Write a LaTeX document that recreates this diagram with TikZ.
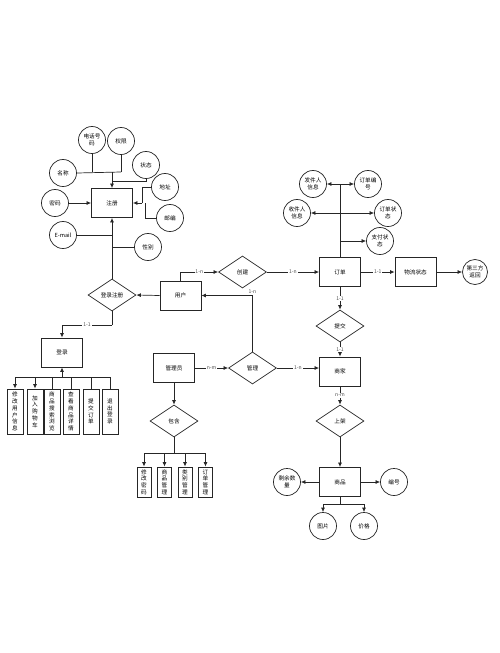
\documentclass[tikz,border=0pt]{standalone}
\usepackage{fontspec}
\usepackage{tikz}
\usetikzlibrary{shapes.geometric,arrows.meta}
\newfontfamily\cjk{Noto Sans CJK SC}

\begin{document}
\begin{tikzpicture}[x=0.025cm, y=-0.025cm,
		every node/.style={font=\cjk\fontsize{4}{4.8}\selectfont, align=center, inner sep=0pt},
		ent/.style={draw, line width=0.6pt, minimum width=1.025cm, minimum height=0.725cm},
		rel/.style={draw, diamond, line width=0.5pt, minimum width=1.2cm, minimum height=0.8cm},
		attr/.style={draw, circle, line width=0.5pt, minimum size=0.675cm},
		vbox/.style={draw, line width=0.6pt, minimum width=0.4cm, minimum height=1.125cm},
		sbox/.style={draw, line width=0.6pt, minimum width=0.35cm, minimum height=0.75cm},
		lbl/.style={fill=white, inner sep=0.6pt, text=black!70, font=\cjk\fontsize{3.6}{4}\selectfont},
		arr/.style={-{Latex[length=3.2pt,width=2.8pt]}},
		line width=0.5pt, draw=black!85]
		\fill[white] (0,0) rectangle (500,653);
		\useasboundingbox (0,0) rectangle (500,653);

		% 注册
		\node[ent] (reg) at (112,203) {注册};
		\node[attr] (phone) at (92,140) {电话号\\码};
		\node[attr] (perm) at (121,141) {权限};
		\node[attr] (state) at (146,165) {状态};
		\node[attr] (name) at (63,173) {名称};
		\node[attr] (addr) at (165,187) {地址};
		\node[attr] (pwd) at (55,203) {密码};
		\node[attr] (zip) at (170,218) {邮编};
		\node[attr] (mail) at (63,235) {E-mail};
		\node[attr] (sex) at (148,247) {性别};

		\coordinate (rt) at (112,172);
		\coordinate (ra) at (142,203);
		\coordinate (rb) at (145,203);
		\draw (name.east) -- (perm.south |- rt);
		\draw (phone.south) -- (phone.south |- rt);
		\draw (perm.south) -- (perm.south |- rt);
		\draw (state.south) |- (112,181);
		\draw[arr] (rt) -- (reg.north);
		\draw (addr.west) -| (ra);
		\draw (zip.west) -| (rb);
		\draw[arr] (ra) -- (reg.east);
		\draw[arr] (pwd.east) -- (reg.west);
		\draw (mail.east) -- (reg.south |- mail.east);
		\draw (sex.west) -- (reg.south |- sex.west);

		% 用户
		\node[rel] (lr) at (112,295) {登录注册};
		\node[ent] (user) at (180.5,295.5) {用户};
		\node[rel] (cre) at (242.5,272) {创建};
		\node[ent] (login) at (62,352.5) {登录};
		\draw[arr] (lr.north) -- (reg.south);
		\draw[arr] (user.west) -- (lr.east);
		\draw[arr] (user.north) |- node[lbl, pos=0.75] {1-n} (cre.west);
		\coordinate (lj) at (112,325);
		\draw (lr.south) -- (lj);
		\draw[arr] (lj) -| node[lbl, pos=0.25] {1-1} (login.north);

		% 用户操作
		\node[vbox] (u1) at (15,411.5) {修\\改\\用\\户\\信\\息};
		\node[vbox] (u2) at (35,411.5) {加\\入\\购\\物\\车};
		\node[vbox] (u3) at (52,411.5) {商\\品\\搜\\索\\浏\\览};
		\node[vbox] (u4) at (71,411.5) {查\\看\\商\\品\\详\\情};
		\node[vbox] (u5) at (91,411.5) {提\\交\\订\\单};
		\node[vbox] (u6) at (110,411.5) {退\\出\\登\\录};
		\coordinate (uj) at (62,377);
		\draw (uj -| u1.north) -- (uj -| u6.north);
		\draw[arr] (uj -| u1.north) -- (u1.north);
		\draw[arr] (uj -| u2.north) -- (u2.north);
		\foreach \n in {u3,u4,u5,u6}
			\draw (uj -| \n.north) -- (\n.north);
		\draw[arr] (uj) -- (login.south);

		% 管理员
		\node[ent] (adm) at (174,368) {管理员};
		\node[rel] (mng) at (252.5,368) {管理};
		\node[rel] (inc) at (174,421) {包含};
		\draw[arr] (adm.east) -- node[lbl] {n-m} (mng.west);
		\draw[arr] (mng.north) |- node[lbl, pos=0.5, above=0.3pt, fill=none] {1-n} (user.east);
		\draw[arr] (adm.south) -- (inc.north);

		\node[sbox] (a1) at (144,482) {修\\改\\密\\码};
		\node[sbox] (a2) at (164.5,482) {商\\品\\管\\理};
		\node[sbox] (a3) at (185,482) {类\\别\\管\\理};
		\node[sbox] (a4) at (205.5,482) {订\\单\\管\\理};
		\coordinate (ij) at (174,453);
		\draw (inc.south) -- (ij);
		\draw (ij -| a1.north) -- (ij -| a4.north);
		\foreach \n in {a1,a2,a3,a4}
			\draw[arr] (ij -| \n.north) -- (\n.north);

		% 订单
		\node[ent] (ord) at (340,272) {订单};
		\node[attr] (snd) at (313,184) {发件人\\信息};
		\node[attr] (ono) at (368,184) {订单编\\号};
		\node[attr] (rcv) at (297,213) {收件人\\信息};
		\node[attr] (ost) at (388,213) {订单状\\态};
		\node[attr] (pst) at (380,241) {支付状\\态};
		\coordinate (ot) at (340,184);
		\draw (ord.north) -- (ot);
		\draw[arr] (ot) -- (snd.east);
		\draw[arr] (ot) -- (ono.west);
		\draw[arr] (ord.north |- rcv.east) -- (rcv.east);
		\draw[arr] (ord.north |- ost.west) -- (ost.west);
		\draw[arr] (ord.north |- pst.west) -- (pst.west);
		\draw[arr] (cre.east) -- node[lbl] {1-n} (ord.west);

		\node[ent] (lgs) at (415.5,272) {物流状态};
		\node[attr, minimum size=0.625cm] (tp) at (475,272) {第三方\\返回};
		\draw[arr] (ord.east) -- node[lbl] {1-1} (lgs.west);
		\draw[arr] (lgs.east) -- (tp.west);

		% 商家
		\node[rel] (sub) at (340,326) {提交};
		\node[ent] (shop) at (340,371.5) {商家};
		\node[rel] (onsh) at (340,421) {上架};
		\draw[arr] (ord.south) -- node[lbl] {1-1} (sub.north);
		\draw[arr] (sub.south) -- node[lbl] {1-1} (shop.north);
		\draw[arr] (mng.east) -- node[lbl] {1-n} (mng.east -| shop.west);
		\draw[arr] (shop.south) -- node[lbl] {n-m} (onsh.north);

		% 商品
		\node[ent] (goods) at (340,482) {商品};
		\node[attr] (rem) at (287,482) {剩余数\\量};
		\node[attr] (num) at (394,482) {编号};
		\node[attr] (pic) at (323,526) {图片};
		\node[attr] (price) at (364,526) {价格};
		\draw[arr] (onsh.south) -- (goods.north);
		\draw[arr] (goods.west) -- (rem.east);
		\draw[arr] (goods.east) -- (num.west);
		\coordinate (gj) at (340,504);
		\draw (goods.south) -- (gj);
		\draw (gj -| pic.north) -- (gj -| price.north);
		\draw[arr] (gj -| pic.north) -- (pic.north);
		\draw[arr] (gj -| price.north) -- (price.north);
\end{tikzpicture}
\end{document}
